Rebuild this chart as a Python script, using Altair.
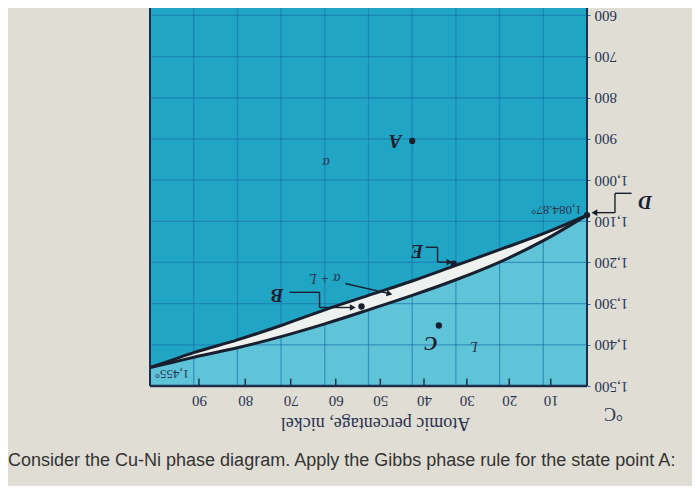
import altair as alt
import pandas as pd

# ---- data read from the (upside-down) photo ----
grid_ni = [0, 10, 20, 30, 40, 50, 60, 70, 80, 90, 100]
grid_temp = [600, 700, 800, 900, 1000, 1100, 1200, 1300, 1400, 1500]

atomic_tick_pos = [8.3, 17.8, 27.5, 37.3, 47.3, 57.5, 67.8, 78.2, 88.8]
atomic_tick_labels = ["10", "20", "30", "40", "50", "60", "70", "80", "90"]

boundary_ni = [0, 10, 20, 30, 40, 50, 60, 70, 80, 90, 95, 100]
solidus_c = [1084.87, 1130, 1169, 1207, 1245, 1280, 1315, 1353, 1388, 1419, 1437, 1455]
liquidus_c = [1084.87, 1147, 1199, 1242, 1280, 1315, 1349, 1380, 1407, 1430, 1443, 1455]

point_names = ["A", "B", "C", "D", "E"]
point_ni = [40.0, 51.6, 33.9, 0.0, 30.5]
point_temp = [905, 1307, 1353, 1084.87, 1203]

letter_text = ["A", "B", "C", "D", "E"]
letter_ni = [43.9, 70.9, 35.7, -13.3, 38.9]
letter_temp = [905, 1280, 1395, 1052, 1172]

small_text = ["L", "α", "α + L"]
small_ni = [25.9, 59.7, 60.0]
small_temp = [1402, 956, 1238]

value_text = ["1,084.87°", "1,455°"]
value_ni = [1.2, 91.0]
value_temp = [1073, 1470]

# bracket / leader segments: (ni1, t1, ni2, t2)
seg_ni1 = [68.1, 61.2, 61.2, 36.9, 34.2, 34.2, -10.2, -6.4, -6.4, 55.3]
seg_t1 = [1272.5, 1272.5, 1309.4, 1163, 1163, 1199, 1032, 1032, 1079, 1251]
seg_ni2 = [61.2, 61.2, 54.2, 34.2, 34.2, 32.0, -6.4, -6.4, -2.2, 45.5]
seg_t2 = [1272.5, 1309.4, 1309.4, 1163, 1199, 1199, 1032, 1079, 1079, 1275]

arrow_ni = [53.6, 31.5, -1.7, 45.2]
arrow_temp = [1309.4, 1199, 1079, 1276]
arrow_shape = ["triangle-right", "triangle-right", "triangle-left", "triangle-right"]
arrow_angle = [0, 0, 0, 14]

question = "Consider the Cu-Ni phase diagram. Apply the Gibbs phase rule for the state point A:"

T_MIN, T_MAX = 582, 1500

# ---- styling ----
DARK = "#20a5c5"
LIGHT = "#5fc4d8"
LENS = "#eef1ed"
GRID = "#1c6fae"
INK = "#18202f"
LABEL = "#2a3350"
SERIF = "Liberation Serif"

xs = alt.Scale(domain=[0, 100], reverse=True, nice=False, zero=False)
ys = alt.Scale(domain=[T_MIN, T_MAX], reverse=True, nice=False, zero=False)

bdf = pd.DataFrame({"ni": boundary_ni, "solidus": solidus_c, "liquidus": liquidus_c})
bdf["bottom"] = T_MAX

label_expr = " : ".join(
    f"datum.value == {p} ? '{l}'" for p, l in zip(atomic_tick_pos, atomic_tick_labels)
) + " : ''"

x_axis = alt.Axis(
    values=atomic_tick_pos, labelExpr=label_expr, grid=False, domain=False, ticks=False,
    labelFont=SERIF, labelFontSize=15, labelColor=LABEL, labelAngle=180,
    labelBaseline="bottom", labelAlign="center", labelPadding=6, labelOverlap=False,
    labelFlush=False,
    title="Atomic percentage, nickel", titleFont=SERIF, titleFontSize=18,
    titleFontWeight="normal", titleColor=LABEL, titleAngle=180, titleX=225, titleY=36,
    titleAlign="center", titleBaseline="middle",
)
y_axis = alt.Axis(
    orient="right", values=grid_temp, format=",d", grid=False, domain=False,
    ticks=True, tickSize=3, tickColor=GRID,
    labelFont=SERIF, labelFontSize=15, labelColor=LABEL, labelAngle=180,
    labelAlign="right", labelBaseline="middle", labelPadding=4, labelOverlap=False,
    labelFlush=False,
    title="°C", titleFont=SERIF, titleFontSize=18, titleFontWeight="normal",
    titleColor=LABEL, titleAngle=180, titleX=26, titleY=404,
    titleAlign="center", titleBaseline="middle",
)

X = lambda f: alt.X(f, scale=xs)
Y = lambda f: alt.Y(f, scale=ys)

# liquid region (light) -- carries the axes
liquid = alt.Chart(bdf).mark_area(color=LIGHT, interpolate="monotone", orient="vertical").encode(
    x=alt.X("ni:Q", scale=xs, axis=x_axis),
    y=alt.Y("liquidus:Q", scale=ys, axis=y_axis),
    y2="bottom:Q",
)

vgrid = alt.Chart(pd.DataFrame({"ni": grid_ni})).mark_rule(
    color=GRID, strokeWidth=1.3, opacity=0.6
).encode(x=X("ni:Q"))
hgrid = alt.Chart(pd.DataFrame({"t": grid_temp})).mark_rule(
    color=GRID, strokeWidth=1.3, opacity=0.6
).encode(y=Y("t:Q"))

lens = alt.Chart(bdf).mark_area(color=LENS, interpolate="monotone", orient="vertical").encode(
    x=X("ni:Q"), y=Y("solidus:Q"), y2="liquidus:Q",
)

sol_line = alt.Chart(bdf).mark_line(color=INK, strokeWidth=3, interpolate="monotone").encode(
    x=X("ni:Q"), y=Y("solidus:Q")
)
liq_line = alt.Chart(bdf).mark_line(color=INK, strokeWidth=3, interpolate="monotone").encode(
    x=X("ni:Q"), y=Y("liquidus:Q")
)

# frame edges
edge_v = alt.Chart(pd.DataFrame({"ni": [0, 100]})).mark_rule(color="#1b2f4a", strokeWidth=2).encode(
    x=X("ni:Q")
)
edge_h = alt.Chart(pd.DataFrame({"t": [T_MAX]})).mark_rule(color="#1b2f4a", strokeWidth=2.5).encode(
    y=Y("t:Q")
)

# inward ticks for atomic-percentage axis
tick_df = pd.DataFrame({"ni": atomic_tick_pos})
tick_df["t0"] = T_MAX
tick_df["t1"] = T_MAX - 18
ticks = alt.Chart(tick_df).mark_rule(color="#1b2f4a", strokeWidth=1.5).encode(
    x=X("ni:Q"), y=Y("t0:Q"), y2="t1:Q"
)

seg_df = pd.DataFrame({"x1": seg_ni1, "y1": seg_t1, "x2": seg_ni2, "y2": seg_t2})
segs = alt.Chart(seg_df).mark_rule(color=INK, strokeWidth=1.4).encode(
    x=X("x1:Q"), x2="x2:Q", y=Y("y1:Q"), y2="y2:Q",
)

arr_df = pd.DataFrame({"ni": arrow_ni, "t": arrow_temp, "shape": arrow_shape, "ang": arrow_angle})
arrows = alt.Chart(arr_df).mark_point(filled=True, color=INK, size=45, opacity=1).encode(
    x=X("ni:Q"), y=Y("t:Q"),
    shape=alt.Shape("shape:N", scale=None), angle=alt.Angle("ang:Q", scale=None),
)

pts = alt.Chart(pd.DataFrame({"name": point_names, "ni": point_ni, "t": point_temp})).mark_circle(
    color=INK, size=40, opacity=1
).encode(x=X("ni:Q"), y=Y("t:Q"))

letters = alt.Chart(pd.DataFrame({"txt": letter_text, "ni": letter_ni, "t": letter_temp})).mark_text(
    font=SERIF, fontSize=19, fontWeight="bold", fontStyle="italic", color=INK, angle=180,
    align="center", baseline="middle"
).encode(x=X("ni:Q"), y=Y("t:Q"), text="txt:N")

smalls = alt.Chart(pd.DataFrame({"txt": small_text, "ni": small_ni, "t": small_temp})).mark_text(
    font=SERIF, fontSize=14, fontStyle="italic", color=LABEL, angle=180,
    align="center", baseline="middle"
).encode(x=X("ni:Q"), y=Y("t:Q"), text="txt:N")

values = alt.Chart(pd.DataFrame({"txt": value_text, "ni": value_ni, "t": value_temp})).mark_text(
    font=SERIF, fontSize=13, color=LABEL, angle=180, align="left", baseline="middle"
).encode(x=X("ni:Q"), y=Y("t:Q"), text="txt:N")

chart = alt.layer(
    liquid, vgrid, hgrid, lens, sol_line, liq_line, edge_v, edge_h, ticks,
    segs, arrows, pts, letters, smalls, values,
).properties(
    width=437, height=378,
    autosize=alt.AutoSizeParams(type="none"),
    padding={"left": 142, "top": 0, "right": 105, "bottom": 100},
    background="#e0ddd4",
    title=alt.TitleParams(
        text=question, orient="bottom", anchor="start", frame="group", dx=-142, offset=21,
        font="Liberation Sans", fontSize=18, fontWeight="normal", color="#333333",
    ),
).configure_view(fill=DARK, stroke=None)

chart.save("out.html", embed_options={"renderer": "svg", "actions": False})
